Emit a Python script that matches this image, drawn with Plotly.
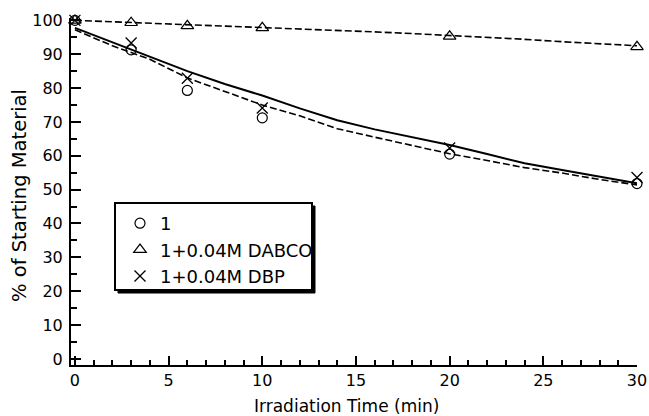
import plotly.graph_objects as go

# Measured points
t_pts = [0, 3, 6, 10, 20, 30]
y_circle = [100, 91.3, 79.3, 71.2, 60.5, 51.8]
y_triangle = [100, 99.3, 98.4, 97.8, 95.3, 92.2]
y_cross = [100, 93.3, 82.9, 74.1, 62.3, 53.6]

# Curves
t_curve = [0, 2, 4, 6, 8, 10, 12, 14, 16, 18, 20, 22, 24, 26, 28, 30]
fit_cross = [97.8, 93.5, 89.2, 85.0, 81.2, 77.8, 74.0, 70.5, 67.8, 65.5, 63.2, 60.5, 57.8, 55.8, 53.8, 51.9]
fit_circle = [97.2, 92.5, 88.5, 83.0, 79.0, 75.0, 71.8, 68.0, 65.5, 63.0, 60.6, 58.6, 56.5, 54.9, 53.0, 51.4]
fit_triangle = [100.0, 99.6, 99.2, 98.6, 98.2, 97.8, 97.4, 97.0, 96.6, 96.1, 95.6, 95.0, 94.4, 93.7, 93.0, 92.5]

x_ticks = [0, 5, 10, 15, 20, 25, 30]
y_ticks = [0, 10, 20, 30, 40, 50, 60, 70, 80, 90, 100]

FONT = "DejaVu Sans"
W, H = 649, 416
L, R, T, B = 71, 12, 18, 51
PW, PH = W - L - R, H - T - B

def px(x):  # window pixel -> paper
    return (x - L) / PW

def py(y):
    return (H - B - y) / PH

fig = go.Figure()

fig.add_trace(go.Scatter(x=t_curve, y=fit_triangle, mode="lines",
                         line=dict(color="black", width=1.6, dash="7px,3px"),
                         showlegend=False, cliponaxis=False))
fig.add_trace(go.Scatter(x=t_curve, y=fit_circle, mode="lines",
                         line=dict(color="black", width=1.6, dash="7px,3px"),
                         showlegend=False, cliponaxis=False))
fig.add_trace(go.Scatter(x=t_curve, y=fit_cross, mode="lines",
                         line=dict(color="black", width=2),
                         showlegend=False, cliponaxis=False))

fig.add_trace(go.Scatter(x=t_pts, y=y_circle, mode="markers", name="1",
                         marker=dict(symbol="circle-open", size=10, color="black", line=dict(width=1.2)),
                         cliponaxis=False))
fig.add_trace(go.Scatter(x=t_pts, y=y_triangle, mode="markers", name="1+0.04M DABCO",
                         marker=dict(symbol="triangle-up-open", size=11, color="black", line=dict(width=1.2)),
                         cliponaxis=False))
fig.add_trace(go.Scatter(x=t_pts, y=y_cross, mode="markers", name="1+0.04M DBP",
                         marker=dict(symbol="x-thin-open", size=11, color="black", line=dict(width=1.3)),
                         cliponaxis=False))

# legend box with shadow (paper coordinates)
dx, dy = 3 / PW, 3 / PH
fig.add_shape(type="rect", xref="paper", yref="paper", x0=px(115) + dx, x1=px(312) + dx,
              y0=py(290) - dy, y1=py(203) - dy,
              fillcolor="black", line=dict(color="black", width=1), layer="above")
fig.add_shape(type="rect", xref="paper", yref="paper", x0=px(115), x1=px(312), y0=py(290), y1=py(203),
              fillcolor="white", line=dict(color="black", width=2), layer="above")

fig.add_annotation(text="% of Starting Material", textangle=-90, xref="paper", yref="paper",
                   x=px(19), y=py(196), xanchor="center", yanchor="middle",
                   showarrow=False, font=dict(family=FONT, size=19.5, color="black"))
fig.add_annotation(text="Irradiation Time (min)", xref="paper", yref="paper",
                   x=px(346), y=py(406), xanchor="center", yanchor="middle",
                   showarrow=False, font=dict(family=FONT, size=17, color="black"))

fig.update_layout(
    width=W, height=H,
    margin=dict(l=L, r=R, t=T, b=B, autoexpand=False),
    paper_bgcolor="white", plot_bgcolor="white",
    font=dict(family=FONT, size=16, color="black"),
    showlegend=True,
    legend=dict(x=px(120), y=py(205), xanchor="left", yanchor="top",
                bgcolor="rgba(0,0,0,0)", borderwidth=0,
                font=dict(family=FONT, size=18, color="black"),
                itemwidth=30, tracegroupgap=0),
    xaxis=dict(range=[-0.21, 30], tickvals=x_ticks, ticks="inside", ticklen=9, tickwidth=1.5,
               tickcolor="black", showline=True, linecolor="black", linewidth=2,
               showgrid=False, zeroline=False, automargin=False, ticklabeloverflow="allow",
               tickfont=dict(size=16),
               minor=dict(dtick=1, ticks="inside", ticklen=5, tickwidth=1.5, tickcolor="black", showgrid=False)),
    yaxis=dict(range=[-1.8, 100.7], tickvals=y_ticks, ticks="inside", ticklen=10, tickwidth=1.5,
               tickcolor="black", showline=True, linecolor="black", linewidth=2,
               showgrid=False, zeroline=False, ticklabelstandoff=3, automargin=False,
               tickfont=dict(size=16),
               minor=dict(dtick=5, ticks="inside", ticklen=6, tickwidth=1.5, tickcolor="black", showgrid=False)),
)

fig.write_html("out.html", config={"displayModeBar": False},
               post_script="document.body.style.margin='0';document.body.style.overflow='hidden';")
